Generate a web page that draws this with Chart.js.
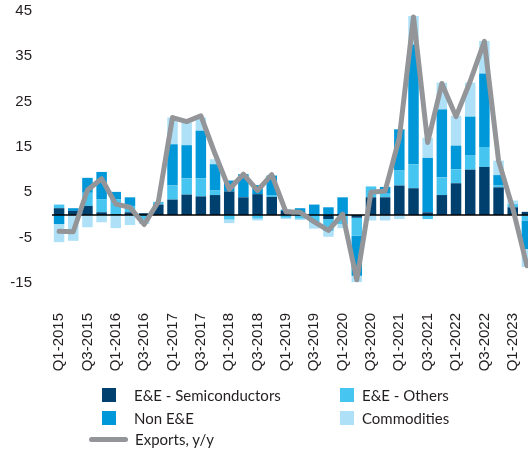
<!DOCTYPE html>
<html>
<head>
<meta charset="utf-8">
<script src="https://cdn.jsdelivr.net/npm/chart.js@4/dist/chart.umd.min.js"></script>
<style>
  html, body { margin: 0; padding: 0; background: #fff; overflow: hidden; width: 528px; height: 452px; }
  #c { position: absolute; left: 0; top: 0; }
  .leg { position: absolute; font-family: Lato, "Noto Sans", sans-serif; font-size: 15px; color: #231f20; white-space: nowrap; line-height: 1; }
  .sw { position: absolute; width: 14px; height: 14px; }
  .ln { position: absolute; width: 39px; height: 5px; border-radius: 3px; background: #939598; }
</style>
</head>
<body>
<canvas id="c" width="534" height="452"></canvas>

<div class="sw" style="left:102px; top:388px; background:#00406f;"></div>
<div class="leg" style="left:134px; top:388px;">E&amp;E - Semiconductors</div>
<div class="sw" style="left:340px; top:388px; background:#45c5f0;"></div>
<div class="leg" style="left:362px; top:388px;">E&amp;E - Others</div>
<div class="sw" style="left:102px; top:411px; background:#0098d9;"></div>
<div class="leg" style="left:134px; top:411px;">Non E&amp;E</div>
<div class="sw" style="left:340px; top:411px; background:#aee1f8;"></div>
<div class="leg" style="left:362px; top:411px;">Commodities</div>
<div class="ln" style="left:89px; top:437px;"></div>
<div class="leg" style="left:135px; top:432px;">Exports, y/y</div>

<script>
const categories = [
  'Q1-2015','Q2-2015','Q3-2015','Q4-2015',
  'Q1-2016','Q2-2016','Q3-2016','Q4-2016',
  'Q1-2017','Q2-2017','Q3-2017','Q4-2017',
  'Q1-2018','Q2-2018','Q3-2018','Q4-2018',
  'Q1-2019','Q2-2019','Q3-2019','Q4-2019',
  'Q1-2020','Q2-2020','Q3-2020','Q4-2020',
  'Q1-2021','Q2-2021','Q3-2021','Q4-2021',
  'Q1-2022','Q2-2022','Q3-2022','Q4-2022',
  'Q1-2023','Q2-2023'
];
const semiconductors = [1.5,0.9,2.0,0.6,0.2,0.6,0.4,2.3,3.4,4.5,4.1,4.4,5.2,3.9,4.6,4.0,0.9,0,0,-0.9,0,-0.6,3.9,3.9,6.5,5.9,0.6,4.4,7.0,10.0,10.6,6.1,1.7,0.7];
const eeOthers = [0.8,0,2.9,2.9,3.3,1.4,-1.0,0.6,3.1,3.6,4.0,1.0,-1.0,0,-0.8,0.4,-0.6,-0.8,-1.6,-2.6,-2.0,-4.0,2.4,0.8,3.3,5.3,-0.9,3.9,3.1,3.1,4.4,0.4,0.7,-1.2];
const nonEE = [-2.0,0.6,3.3,6.0,1.6,1.9,0,0,9.1,7.3,10.5,5.8,2.4,5.1,2.0,4.3,0.3,1.5,2.3,1.7,3.9,-8.8,0,1.5,9.1,26.4,12.0,15.0,5.2,8.6,16.2,2.3,0,-6.3];
const commodities = [-4.0,-5.7,-2.7,-1.6,-2.9,-2.2,-1.0,0,5.9,5.0,2.9,1.1,-0.8,0,-0.4,0,-0.3,-0.3,-1.4,-1.3,-0.9,-1.4,-1.2,-1.2,-0.9,6.3,4.4,5.9,6.6,7.5,7.2,3.2,0.8,-4.0];
const exportsYoY = [-3.6,-3.7,5.5,8.0,2.4,1.7,-2.1,2.9,21.5,20.6,21.9,13.5,5.7,9.0,5.4,8.9,0.7,0.6,-1.5,-3.4,0.2,-14.3,5.0,5.3,17.0,43.7,16.0,29.0,21.7,29.5,38.3,12.0,1.5,-11.2];
const yTicks = [-15,-5,5,15,25,35,45];

const zeroLine = {
  id: 'zeroLine',
  beforeDatasetDraw(chart, args) {
    if (args.meta.type !== 'line') return;
    const y = chart.scales.y.getPixelForValue(0);
    const ctx = chart.ctx;
    ctx.save();
    ctx.strokeStyle = '#000';
    ctx.lineWidth = 1.3;
    ctx.beginPath();
    ctx.moveTo(chart.chartArea.left, y);
    ctx.lineTo(chart.chartArea.right, y);
    ctx.stroke();
    ctx.restore();
  }
};

function noPad(s) { s.paddingTop = 0; s.paddingBottom = 0; s.paddingLeft = 0; s.paddingRight = 0; }

const barCommon = { type: 'bar', stack: 's', order: 1, barPercentage: 0.74, categoryPercentage: 1, borderWidth: 0 };

new Chart(document.getElementById('c'), {
  data: {
    labels: categories,
    datasets: [
      Object.assign({ label: 'E&E - Semiconductors', data: semiconductors, backgroundColor: '#00406f' }, barCommon),
      Object.assign({ label: 'E&E - Others', data: eeOthers, backgroundColor: '#45c5f0' }, barCommon),
      Object.assign({ label: 'Non E&E', data: nonEE, backgroundColor: '#0098d9' }, barCommon),
      Object.assign({ label: 'Commodities', data: commodities, backgroundColor: '#aee1f8' }, barCommon),
      { type: 'line', label: 'Exports, y/y', data: exportsYoY, borderColor: '#939598', borderWidth: 5,
        pointRadius: 0, tension: 0, order: 0, borderJoinStyle: 'round', borderCapStyle: 'round', fill: false }
    ]
  },
  options: {
    responsive: false,
    devicePixelRatio: 1,
    animation: false,
    layout: { padding: { top: 11, right: 0, left: 0, bottom: 0 } },
    plugins: { legend: { display: false }, tooltip: { enabled: false } },
    scales: {
      x: {
        stacked: true,
        grid: { display: false, drawTicks: false },
        border: { display: false },
        ticks: {
          autoSkip: false, minRotation: 90, maxRotation: 90, padding: 30,
          color: '#231f20', font: { family: "'Liberation Sans', Arial, sans-serif", size: 15 },
          callback: function(v, i) { return i % 2 === 0 ? categories[i] : ''; }
        },
        afterFit: function(s) { s.height = 169; noPad(s); }
      },
      y: {
        stacked: true,
        min: -15, max: 45,
        grid: { display: false, drawTicks: false },
        border: { display: false },
        afterBuildTicks: function(s) { s.ticks = yTicks.map(v => ({ value: v })); },
        ticks: {
          padding: 20, color: '#231f20',
          font: { family: "'Liberation Sans', Arial, sans-serif", size: 15 }
        },
        afterFit: function(s) { s.width = 52; noPad(s); }
      }
    }
  },
  plugins: [zeroLine]
});
</script>
</body>
</html>
